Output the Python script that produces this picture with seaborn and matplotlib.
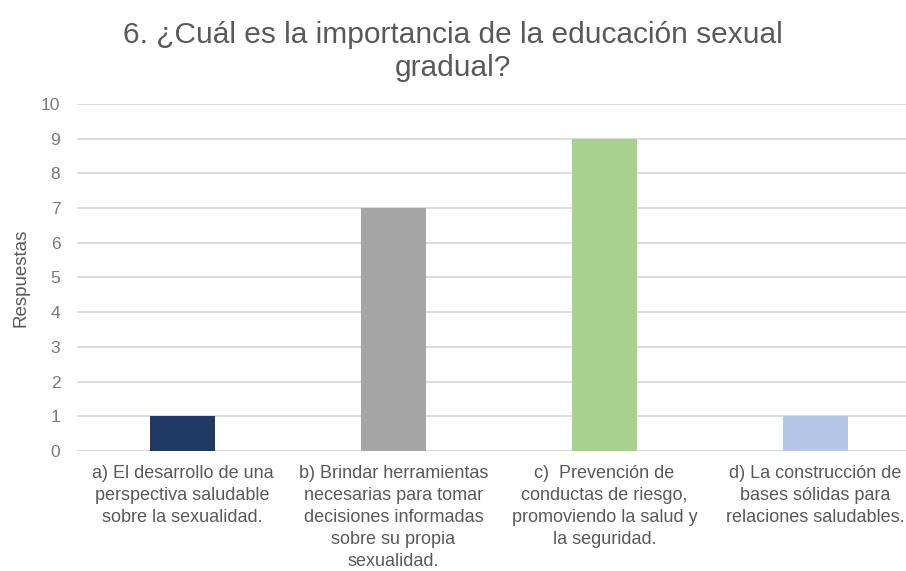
import pandas as pd
import matplotlib.pyplot as plt
import seaborn as sns

categorias = [
    'a) El desarrollo de una\nperspectiva saludable\nsobre la sexualidad.',
    'b) Brindar herramientas\nnecesarias para tomar\ndecisiones informadas\nsobre su propia\nsexualidad.',
    'c)  Prevención de\nconductas de riesgo,\npromoviendo la salud y\nla seguridad.',
    'd) La construcción de\nbases sólidas para\nrelaciones saludables.',
]
respuestas = [1, 7, 9, 1]
colores = ['#203864', '#A5A5A5', '#A9D18E', '#B4C7E7']

df = pd.DataFrame({'categoria': categorias, 'respuestas': respuestas})

sns.set_style('white')
plt.rcParams['font.family'] = ['Liberation Sans', 'DejaVu Sans']

fig = plt.figure(figsize=(9.06, 5.71), dpi=100)
ax = fig.add_axes([0.085, 0.2102, 0.915, 0.6077])

sns.barplot(data=df, x='categoria', y='respuestas', hue='categoria',
            palette=colores, width=0.31, legend=False, ax=ax,
            saturation=1, linewidth=0)

ax.set_ylim(0, 10)
ax.set_xlim(-0.5, 3.43)
ax.set_yticks(range(0, 11))
ax.yaxis.grid(True, color='#D9D9D9', linewidth=1.3)
ax.set_axisbelow(True)
for s in ax.spines.values():
    s.set_visible(False)
ax.axhline(0, color='#D9D9D9', linewidth=1.5, zorder=0)

ax.tick_params(axis='both', length=0, colors='#7a7a7a')
ax.tick_params(axis='y', pad=12, labelsize=12.5)
ax.tick_params(axis='x', pad=10, labelsize=13)
for lbl in ax.get_xticklabels():
    lbl.set_linespacing(1.38)
    lbl.set_color('#595959')

ax.set_xlabel('')
ax.set_ylabel('Respuestas', color='#595959', fontsize=13.5, labelpad=8)

fig.text(0.5, 0.91, '6. ¿Cuál es la importancia de la educación sexual\ngradual?',
         ha='center', va='center', fontsize=21.5, color='#595959',
         linespacing=1.2)

fig.savefig('out.png', dpi=100)
